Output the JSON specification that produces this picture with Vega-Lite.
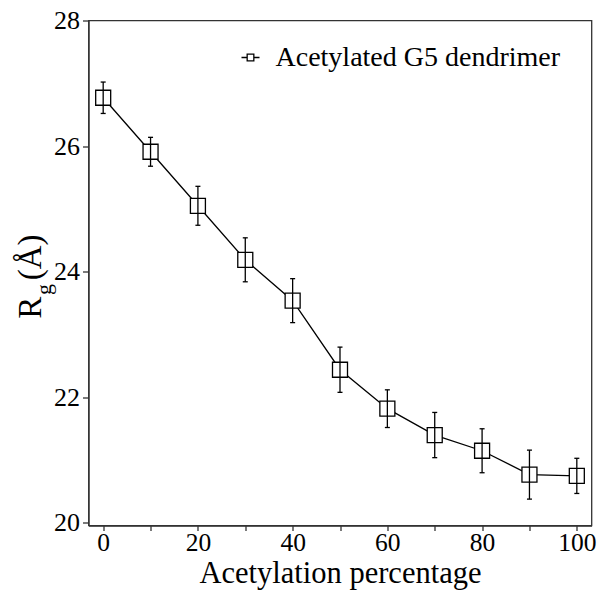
{
  "$schema": "https://vega.github.io/schema/vega-lite/v6.json",
  "width": 503,
  "height": 505,
  "autosize": "none",
  "padding": {"left": 88.5, "top": 20.5, "right": 6.5, "bottom": 64.5},
  "background": "white",
  "data": {
    "values": [
      {"pct": 0, "rg": 26.77, "lo": 26.52, "hi": 27.02},
      {"pct": 10, "rg": 25.91, "lo": 25.68, "hi": 26.14},
      {"pct": 20, "rg": 25.05, "lo": 24.74, "hi": 25.36},
      {"pct": 30, "rg": 24.19, "lo": 23.84, "hi": 24.54},
      {"pct": 40, "rg": 23.54, "lo": 23.19, "hi": 23.89},
      {"pct": 50, "rg": 22.44, "lo": 22.08, "hi": 22.8},
      {"pct": 60, "rg": 21.82, "lo": 21.52, "hi": 22.12},
      {"pct": 70, "rg": 21.4, "lo": 21.04, "hi": 21.76},
      {"pct": 80, "rg": 21.15, "lo": 20.8, "hi": 21.5},
      {"pct": 90, "rg": 20.77, "lo": 20.38, "hi": 21.16},
      {"pct": 100, "rg": 20.75, "lo": 20.47, "hi": 21.03}
    ]
  },
  "encoding": {
    "x": {
      "field": "pct",
      "type": "quantitative",
      "scale": {"domain": [-3.1, 103.1], "nice": false, "zero": false},
      "axis": {
        "title": "Acetylation percentage",
        "titleFontSize": 30.5,
        "titleY": 57,
        "titleBaseline": "alphabetic",
        "values": [0, 10, 20, 30, 40, 50, 60, 70, 80, 90, 100],
        "labelExpr": "datum.value % 20 == 0 ? datum.label : ''",
        "labelFontSize": 25.5,
        "labelPadding": 0,
        "tickSize": 5,
        "labelFlush": false,
        "labelOverlap": false
      }
    }
  },
  "layer": [
    {
      "mark": {"type": "line", "strokeWidth": 1.3},
      "encoding": {
        "y": {
          "field": "rg",
          "type": "quantitative",
          "scale": {"domain": [19.96, 28], "nice": false, "zero": false},
          "axis": {
            "title": "R\u00a0\u00a0(Å)",
            "titleFontSize": 33,
            "titleAngle": 270,
            "titleX": -48.5,
            "titleY": 297.8,
            "titleAlign": "left",
            "titleBaseline": "alphabetic",
            "values": [20, 22, 24, 26, 28],
            "labelFontSize": 26,
            "labelPadding": 3,
            "tickSize": 6,
            "labelFlush": false,
            "labelOverlap": false
          }
        },
        "color": {
          "datum": "Acetylated G5 dendrimer",
          "scale": {"range": ["black"]},
          "legend": {
            "title": null,
            "orient": "none",
            "legendX": 148,
            "legendY": 23,
            "padding": 0,
            "symbolType": "M-1,0L-0.37,0M0.37,0L1,0M-0.37,-0.37L0.37,-0.37L0.37,0.37L-0.37,0.37Z",
            "symbolSize": 324,
            "symbolStrokeWidth": 1.3,
            "symbolFillColor": "transparent",
            "symbolStrokeColor": "black",
            "labelFont": "Liberation Serif, Times New Roman, serif",
            "labelFontSize": 28,
            "labelColor": "black",
            "labelOffset": 11,
            "labelLimit": 400
          }
        }
      }
    },
    {
      "mark": {"type": "point", "shape": "square", "size": 225, "filled": true, "fill": "white", "stroke": "black", "strokeWidth": 1.3, "opacity": 1},
      "encoding": {
        "y": {"field": "rg", "type": "quantitative", "axis": null}
      }
    },
    {
      "mark": {"type": "rule", "color": "black", "strokeWidth": 1.3},
      "encoding": {
        "y": {
          "field": "lo",
          "type": "quantitative",
          "axis": {
            "orient": "right",
            "domain": false,
            "ticks": false,
            "labels": false,
            "grid": false,
            "title": "g",
            "titleFontSize": 22,
            "titleAngle": 270,
            "titleX": -541,
            "titleY": 268.5,
            "titleAlign": "center",
            "titleBaseline": "alphabetic"
          }
        },
        "y2": {"field": "hi"}
      }
    },
    {
      "mark": {"type": "tick", "orient": "horizontal", "size": 5, "thickness": 1.3, "color": "black", "opacity": 1},
      "encoding": {
        "y": {"field": "lo", "type": "quantitative", "axis": null}
      }
    },
    {
      "mark": {"type": "tick", "orient": "horizontal", "size": 5, "thickness": 1.3, "color": "black", "opacity": 1},
      "encoding": {
        "y": {"field": "hi", "type": "quantitative", "axis": null}
      }
    }
  ],
  "resolve": {"axis": {"y": "independent"}},
  "config": {
    "font": "Liberation Serif, Times New Roman, serif",
    "view": {"stroke": "#333", "strokeWidth": 1.3},
    "axis": {
      "domainColor": "#333",
      "domainWidth": 1.3,
      "tickColor": "#333",
      "tickWidth": 1.3,
      "labelColor": "black",
      "titleColor": "black",
      "labelFont": "Liberation Serif, Times New Roman, serif",
      "titleFont": "Liberation Serif, Times New Roman, serif",
      "titleFontWeight": "normal",
      "grid": false
    }
  }
}
